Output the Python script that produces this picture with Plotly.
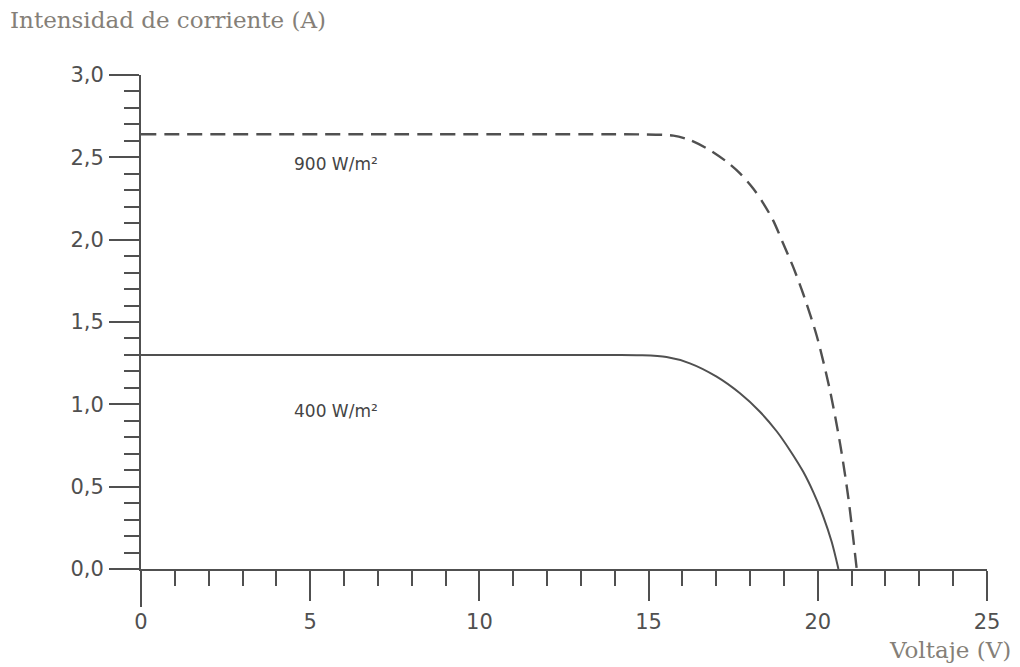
import plotly.graph_objects as go

# Data
v_900 = [0, 14.0, 14.75, 15.73, 16.22, 16.81, 17.31, 17.70, 18.09, 18.39, 18.68, 18.98, 19.28, 19.57,
         19.97, 20.36, 20.66, 20.90, 21.15]
i_900 = [2.64, 2.64, 2.639, 2.632, 2.605, 2.544, 2.473, 2.403, 2.311, 2.221, 2.117, 1.975, 1.83, 1.67,
         1.415, 1.084, 0.76, 0.436, 0.0]

v_400 = [0, 14.0, 14.75, 15.53, 16.22, 17.01, 17.70, 18.29, 18.79, 19.18, 19.57, 19.87, 20.16, 20.41, 20.61]
i_400 = [1.30, 1.30, 1.298, 1.287, 1.249, 1.168, 1.067, 0.955, 0.835, 0.72, 0.59, 0.465, 0.32, 0.165, 0.0]

x_ticks = [0, 5, 10, 15, 20, 25]
y_ticks = [0.0, 0.5, 1.0, 1.5, 2.0, 2.5, 3.0]

labels = ["900 W/m²", "400 W/m²"]
label_x = [5.75, 5.75]
label_y = [2.46, 0.96]

ink = "#505050"
title_col = "#857f78"

fig = go.Figure()
fig.add_trace(go.Scatter(x=v_900, y=i_900, mode="lines",
                         line=dict(color=ink, width=2.4, dash="15px,8px", shape="spline", smoothing=0.8),
                         showlegend=False, hoverinfo="skip"))
fig.add_trace(go.Scatter(x=v_400, y=i_400, mode="lines",
                         line=dict(color=ink, width=2, shape="spline", smoothing=0.8),
                         showlegend=False, hoverinfo="skip"))

for t, x, y in zip(labels, label_x, label_y):
    fig.add_annotation(x=x, y=y, text=t, showarrow=False, xref="x", yref="y",
                       font=dict(family="DejaVu Sans", size=17, color="#444444"))

fig.add_annotation(x=-0.157, y=1.111, xref="paper", yref="paper", xanchor="left", yanchor="middle",
                   text="Intensidad de corriente (A)", showarrow=False,
                   font=dict(family="DejaVu Serif", size=23, color=title_col))
fig.add_annotation(x=1.031, y=-0.164, xref="paper", yref="paper", xanchor="right", yanchor="middle",
                   text="Voltaje (V)", showarrow=False,
                   font=dict(family="DejaVu Serif", size=23, color=title_col))

# extend axis lines slightly past the origin, like the reference
fig.add_shape(type="line", xref="x domain", yref="y domain", x0=0, x1=0, y0=0, y1=-0.077,
              line=dict(color=ink, width=2))
fig.add_shape(type="line", xref="x domain", yref="y domain", x0=0, x1=-0.037, y0=0, y1=0,
              line=dict(color=ink, width=2))

fig.update_layout(
    width=1012, height=659,
    margin=dict(l=133, r=33, t=67, b=98),
    paper_bgcolor="white", plot_bgcolor="white",
    separators=", ",
    xaxis=dict(range=[0, 25], tickvals=x_ticks, ticks="outside", ticklen=30, tickwidth=2, tickcolor=ink,
               showline=True, linecolor=ink, linewidth=2, showgrid=False, zeroline=False,
               ticklabelstandoff=3,
               tickfont=dict(family="DejaVu Sans", size=21, color=ink),
               minor=dict(dtick=1, ticks="outside", ticklen=15, tickwidth=2, tickcolor=ink, showgrid=False)),
    yaxis=dict(range=[0, 3], tickvals=y_ticks, tickformat=".1f", ticks="outside", ticklen=30, tickwidth=2,
               tickcolor=ink, showline=True, linecolor=ink, linewidth=2, showgrid=False, zeroline=False,
               ticklabelstandoff=1,
               tickfont=dict(family="DejaVu Sans", size=21, color=ink),
               minor=dict(dtick=0.1, ticks="outside", ticklen=15, tickwidth=2, tickcolor=ink, showgrid=False)),
)

fig.write_html("out.html")
